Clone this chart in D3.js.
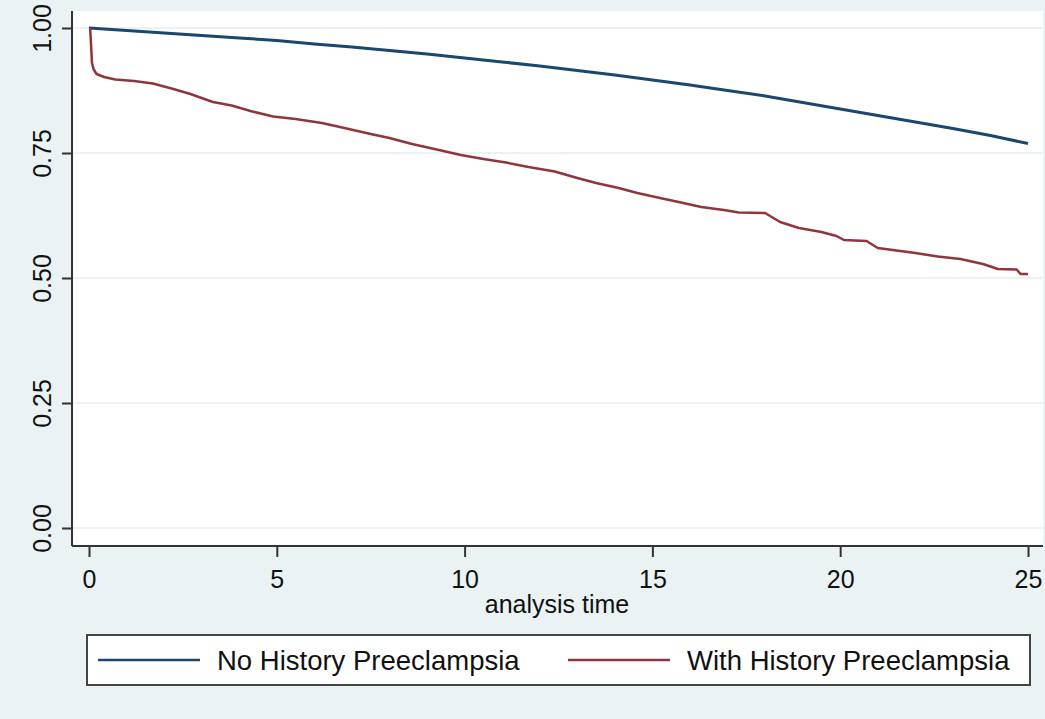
<!DOCTYPE html>
<html>
<head>
<meta charset="utf-8">
<script src="https://cdn.jsdelivr.net/npm/d3@7"></script>
<style>
  body { margin: 0; background: #eaf2f3; }
  svg { display: block; font-family: "Liberation Sans", Arial, sans-serif; }
</style>
</head>
<body>
<svg id="chart"></svg>
<script>
// Kaplan-Meier estimates
const noHistTime = [0, 1, 2, 3, 4, 5, 6, 7, 8, 9, 10, 11, 12, 13, 14, 15, 16, 17, 18, 19, 20, 21, 22, 23, 24, 25];
const noHistSurv = [1.0, 0.995, 0.990, 0.985, 0.980, 0.975, 0.968, 0.962, 0.955, 0.948, 0.940, 0.932, 0.924, 0.915, 0.906, 0.896, 0.886, 0.875, 0.864, 0.851, 0.838, 0.825, 0.812, 0.799, 0.785, 0.769];

const histTime = [0.03, 0.08, 0.12, 0.2, 0.4, 0.7, 1.2, 1.7, 2.2, 2.7, 3.3, 3.8, 4.3, 4.9, 5.5, 6.2, 6.8, 7.5, 8.0, 8.6, 9.2, 9.9, 10.5, 11.1, 11.7, 12.4, 13.0, 13.5, 14.1, 14.6, 15.2, 15.7, 16.3, 16.9, 17.3, 18.0, 18.4, 18.9, 19.5, 19.9, 20.1, 20.7, 21.0, 21.5, 22.0, 22.6, 23.2, 23.8, 24.2, 24.7, 24.8, 25.0];
const histSurv = [1.0, 0.93, 0.918, 0.908, 0.902, 0.897, 0.894, 0.889, 0.879, 0.868, 0.852, 0.845, 0.834, 0.823, 0.818, 0.810, 0.800, 0.788, 0.780, 0.768, 0.758, 0.746, 0.738, 0.731, 0.722, 0.713, 0.700, 0.690, 0.680, 0.670, 0.660, 0.652, 0.642, 0.636, 0.631, 0.630, 0.612, 0.600, 0.592, 0.584, 0.576, 0.574, 0.560, 0.555, 0.550, 0.543, 0.538, 0.528, 0.518, 0.517, 0.508, 0.508];

const xTicks = [0, 5, 10, 15, 20, 25];
const yTicks = [0, 0.25, 0.5, 0.75, 1];
const seriesNames = ["No History Preeclampsia", "With History Preeclampsia"];
const seriesColors = ["#1a476f", "#90353b"];

const W = 1045, H = 719;
const plot = { left: 72, top: 11, right: 1043, bottom: 546 };

const svg = d3.select("#chart").attr("width", W).attr("height", H);

svg.append("rect").attr("width", W).attr("height", H).attr("fill", "#eaf2f3");
svg.append("rect")
    .attr("x", plot.left).attr("y", plot.top)
    .attr("width", plot.right - plot.left).attr("height", plot.bottom - plot.top)
    .attr("fill", "#fff");

const x = d3.scaleLinear().domain([0, 25]).range([89, 1028]);
const y = d3.scaleLinear().domain([0, 1]).range([528, 28]);

// gridlines
svg.append("g").selectAll("line")
    .data(yTicks)
    .join("line")
    .attr("x1", plot.left).attr("x2", plot.right)
    .attr("y1", d => y(d)).attr("y2", d => y(d))
    .attr("stroke", "#eaf2f3").attr("stroke-width", 2);

// y axis
const yAxis = svg.append("g")
    .attr("transform", `translate(${plot.left},0)`)
    .call(d3.axisLeft(y).tickValues(yTicks).tickFormat(d3.format(".2f")).tickSize(10).tickSizeOuter(0));
yAxis.select(".domain").attr("d", `M0,${plot.top}V${plot.bottom}`).attr("stroke", "#333").attr("stroke-width", 2);
yAxis.selectAll(".tick line").attr("stroke", "#333").attr("stroke-width", 2);
yAxis.selectAll(".tick text")
    .attr("font-size", 25).attr("fill", "#111")
    .attr("x", 0).attr("dy", 0)
    .attr("text-anchor", "middle")
    .attr("transform", "translate(-21,0) rotate(-90)");

// x axis
const xAxis = svg.append("g")
    .attr("transform", `translate(0,${plot.bottom})`)
    .call(d3.axisBottom(x).tickValues(xTicks).tickSize(11).tickSizeOuter(0));
xAxis.select(".domain").attr("d", `M${plot.left},0H${plot.right}`).attr("stroke", "#333").attr("stroke-width", 2);
xAxis.selectAll(".tick line").attr("stroke", "#333").attr("stroke-width", 2);
xAxis.selectAll(".tick text")
    .attr("font-size", 25).attr("fill", "#111")
    .attr("y", 42).attr("dy", 0);

svg.append("text")
    .attr("x", 557).attr("y", 613)
    .attr("text-anchor", "middle")
    .attr("font-size", 25).attr("fill", "#111")
    .text("analysis time");

// survival curves
const line = d3.line()
    .x(d => x(d[0]))
    .y(d => y(d[1]));

svg.append("path")
    .datum(d3.zip(noHistTime, noHistSurv))
    .attr("fill", "none")
    .attr("stroke", seriesColors[0]).attr("stroke-width", 3)
    .attr("d", line);

svg.append("path")
    .datum(d3.zip(histTime, histSurv))
    .attr("fill", "none")
    .attr("stroke", seriesColors[1]).attr("stroke-width", 2.5)
    .attr("stroke-linejoin", "round")
    .attr("d", line);

// legend
svg.append("rect")
    .attr("x", 87).attr("y", 635).attr("width", 943).attr("height", 50)
    .attr("fill", "#fff").attr("stroke", "#444").attr("stroke-width", 2);

const legendX = [98, 568];
const legend = svg.append("g").selectAll("g")
    .data(seriesNames)
    .join("g")
    .attr("transform", (d, i) => `translate(${legendX[i]},660)`);
legend.append("line")
    .attr("x1", 0).attr("x2", 102)
    .attr("stroke", (d, i) => seriesColors[i]).attr("stroke-width", 2.5);
legend.append("text")
    .attr("x", 119).attr("y", 10)
    .attr("font-size", 27.5).attr("fill", "#111")
    .text(d => d);
</script>
</body>
</html>
